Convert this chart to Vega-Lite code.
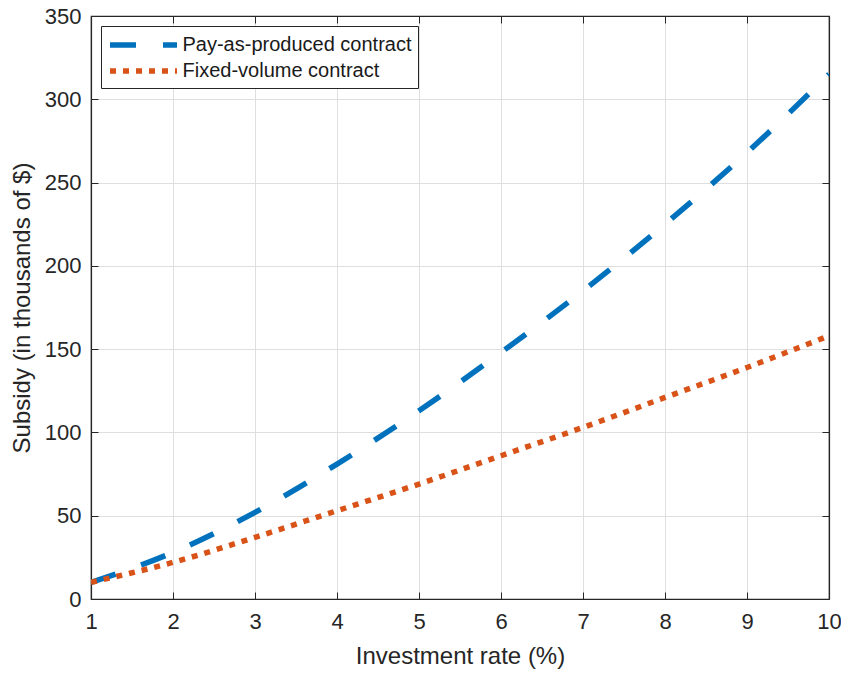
{
  "$schema": "https://vega.github.io/schema/vega-lite/v6.json",
  "width": 738,
  "height": 583,
  "autosize": {"type": "none"},
  "padding": {"left": 91, "top": 16, "right": 12, "bottom": 74},
  "background": "white",
  "config": {
    "font": "Liberation Sans",
    "view": {"stroke": "#262626", "strokeWidth": 1.2}
  },
  "data": {
    "values": [
      {"x": 1, "y": 10, "c": "Pay-as-produced contract"},
      {"x": 2, "y": 28, "c": "Pay-as-produced contract"},
      {"x": 3, "y": 52, "c": "Pay-as-produced contract"},
      {"x": 4, "y": 81, "c": "Pay-as-produced contract"},
      {"x": 5, "y": 113, "c": "Pay-as-produced contract"},
      {"x": 6, "y": 148, "c": "Pay-as-produced contract"},
      {"x": 7, "y": 185, "c": "Pay-as-produced contract"},
      {"x": 8, "y": 225, "c": "Pay-as-produced contract"},
      {"x": 9, "y": 268, "c": "Pay-as-produced contract"},
      {"x": 10, "y": 315, "c": "Pay-as-produced contract"},
      {"x": 1, "y": 10, "c": "Fixed-volume contract"},
      {"x": 2, "y": 22, "c": "Fixed-volume contract"},
      {"x": 3, "y": 37, "c": "Fixed-volume contract"},
      {"x": 4, "y": 53, "c": "Fixed-volume contract"},
      {"x": 5, "y": 69, "c": "Fixed-volume contract"},
      {"x": 6, "y": 86, "c": "Fixed-volume contract"},
      {"x": 7, "y": 103, "c": "Fixed-volume contract"},
      {"x": 8, "y": 121, "c": "Fixed-volume contract"},
      {"x": 9, "y": 139, "c": "Fixed-volume contract"},
      {"x": 10, "y": 158, "c": "Fixed-volume contract"}
    ]
  },
  "layer": [
    {
      "mark": {"type": "line", "opacity": 0},
      "encoding": {
        "x": {
          "field": "x", "type": "quantitative",
          "scale": {"domain": [1, 10], "nice": false},
          "axis": {"orient": "top", "title": null, "labels": false, "values": [1,2,3,4,5,6,7,8,9,10],
            "tickSize": -7, "tickColor": "#262626", "domainColor": "#262626", "domainWidth": 1.2, "grid": false}
        },
        "y": {
          "field": "y", "type": "quantitative",
          "scale": {"domain": [0, 350], "nice": false},
          "axis": {"orient": "right", "title": null, "labels": false, "values": [0,50,100,150,200,250,300,350],
            "tickSize": -7, "tickColor": "#262626", "domainColor": "#262626", "domainWidth": 1.2, "grid": false}
        },
        "detail": {"field": "c"}
      }
    },
    {
      "mark": {"type": "line", "strokeWidth": 5.5, "strokeCap": "butt", "interpolate": "monotone", "clip": true},
      "encoding": {
        "x": {
          "field": "x", "type": "quantitative",
          "scale": {"domain": [1, 10], "nice": false},
          "axis": {
            "title": "Investment rate (%)", "titleFontSize": 24, "titleFontWeight": "normal", "titleColor": "#262626", "titlePadding": 12,
            "values": [1,2,3,4,5,6,7,8,9,10], "labelFontSize": 22, "labelColor": "#262626", "labelPadding": 19,
            "tickSize": -7, "tickColor": "#262626", "domainColor": "#262626", "domainWidth": 1.2,
            "grid": true, "gridColor": "#dfdfdf", "gridWidth": 1, "labelFlush": false
          }
        },
        "y": {
          "field": "y", "type": "quantitative",
          "scale": {"domain": [0, 350], "nice": false},
          "axis": {
            "title": "Subsidy (in thousands of $)", "titleFontSize": 24, "titleFontWeight": "normal", "titleColor": "#262626", "titlePadding": 10,
            "values": [0,50,100,150,200,250,300,350], "labelFontSize": 22, "labelColor": "#262626", "labelPadding": 17,
            "tickSize": -7, "tickColor": "#262626", "domainColor": "#262626", "domainWidth": 1.2,
            "grid": true, "gridColor": "#dfdfdf", "gridWidth": 1
          }
        },
        "color": {
          "field": "c", "type": "nominal",
          "scale": {"domain": ["Pay-as-produced contract", "Fixed-volume contract"], "range": ["#0072BD", "#D95319"]},
          "legend": {
            "title": null, "orient": "none", "legendX": 10, "legendY": 10,
            "symbolType": "M-3.35,0H3.35", "symbolSize": 400, "symbolStrokeWidth": 5.5, "symbolOffset": 23.5,
            "labelFontSize": 20, "labelColor": "#1a1a1a", "labelOffset": 26,
            "fillColor": "white", "strokeColor": "#262626", "padding": 6, "rowPadding": 2,
            "labelLimit": 400
          }
        },
        "strokeDash": {
          "field": "c", "type": "nominal",
          "scale": {"domain": ["Pay-as-produced contract", "Fixed-volume contract"], "range": [[26, 27], [6, 7]]},
          "legend": null
        }
      }
    }
  ],
  "resolve": {"axis": {"x": "independent", "y": "independent"}}
}
